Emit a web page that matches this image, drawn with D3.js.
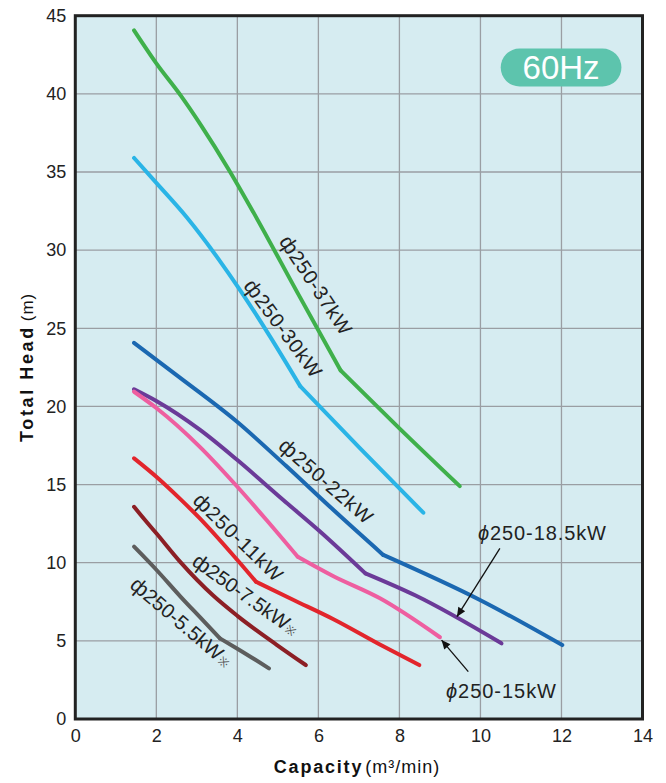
<!DOCTYPE html>
<html><head><meta charset="utf-8">
<script src="https://cdn.jsdelivr.net/npm/d3@7"></script>
<style>
html,body{margin:0;padding:0;background:#fff;}
svg{display:block;font-family:"Liberation Sans",Arial,Helvetica,sans-serif;}
</style></head>
<body>
<svg id="chart" width="666" height="783"></svg>
<script>
// ---- data ----
const xTicks = [0,2,4,6,8,10,12,14];
const yTicks = [0,5,10,15,20,25,30,35,40,45];

const seriesNames = ["37kW","30kW","22kW","18.5kW","15kW","11kW","7.5kW","5.5kW"];
const seriesColors = ["#3fb04b","#2ab4e6","#1b68b1","#6b3a98","#ee5ea0","#e2252c","#8c1f25","#5d5d5d"];

const q37 = [1.45,2.0,2.6,3.1,3.8,4.4,5.5,6.55,8.0,9.49];
const h37 = [44.06,41.95,39.9,38.0,35.1,32.4,27.2,22.3,18.6,14.9];

const q30 = [1.45,2.0,2.75,3.57,4.0,4.8,5.55,7.0,8.59];
const h30 = [35.9,34.3,32.1,29.3,27.7,24.5,21.3,17.4,13.2];

const q22 = [1.45,2.5,4.0,5.2,6.36,7.6,10.0,12.02];
const h22 = [24.07,22.0,19.0,16.2,13.4,10.5,7.6,4.73];

const q185 = [1.45,2.0,3.08,4.0,5.14,6.04,7.16,8.4,10.52];
const h185 = [21.1,20.35,18.5,16.57,14.0,12.0,9.32,7.9,4.84];

const q15 = [1.45,2.0,3.08,4.0,4.73,5.49,6.36,7.52,9.0];
const h15 = [20.94,19.9,17.4,14.86,12.7,10.38,9.15,7.72,5.23];

const q11 = [1.45,2.0,2.6,3.05,4.0,4.46,5.4,6.36,7.6,8.49];
const h11 = [16.68,15.5,14.05,12.9,10.17,8.78,7.6,6.4,4.65,3.45];

const q75 = [1.45,1.72,2.0,2.59,3.41,4.0,4.97,5.69];
const h75 = [13.58,12.73,11.88,10.05,7.88,6.6,4.75,3.45];

const q55 = [1.45,2.0,2.59,3.1,3.57,4.0,4.78];
const h55 = [11.03,9.55,7.85,6.45,5.16,4.5,3.24];

const seriesQ = [q37,q30,q22,q185,q15,q11,q75,q55];
const seriesH = [h37,h30,h22,h185,h15,h11,h75,h55];
// index of the sharp bend in each curve (-1 = none)
const seriesBend = [7,6,5,6,5,5,-1,4];

// rotated curve labels: text, center (data units), angle, length
const labelText = ["250-37kW","250-30kW","250-22kW","250-11kW","250-7.5kW","250-5.5kW"];
const labelMark = ["","","","","\u203B","\u203B"];
const labelQ = [5.94,5.13,6.19,4.02,4.21,2.62];
const labelH = [27.77,25.0,15.23,11.64,7.95,6.2];
const labelAngle = [56.4,53.4,41.2,44.3,35.5,40.5];
const labelLen = [114,116,117,116,125,126];

// arrow callouts
const calloutText = ["250-18.5kW","250-15kW"];
const calloutTextQ = [9.94,9.15];
const calloutTextH = [11.45,1.32];
const calloutLen = [128,110];
const arrowFromQ = [10.48,9.70], arrowFromH = [10.92,3.03];
const arrowToQ = [9.42,9.04], arrowToH = [6.55,5.05];

// ---- layout ----
const pL = 75.3, pR = 642.5, pT = 15.7, pB = 719;
const x = d3.scaleLinear().domain([0,14]).range([pL,pR]);
const y = d3.scaleLinear().domain([0,45]).range([pB,pT]);

const svg = d3.select("#chart");

svg.append("defs").append("marker")
  .attr("id","ah").attr("viewBox","0 0 10 10").attr("refX",10).attr("refY",5)
  .attr("markerWidth",11).attr("markerHeight",9).attr("markerUnits","userSpaceOnUse")
  .attr("orient","auto")
  .append("path").attr("d","M0,0.5 L10,5 L0,9.5 Z").attr("fill","#111");

// background
svg.append("rect").attr("x",pL).attr("y",pT).attr("width",pR-pL).attr("height",pB-pT)
  .attr("fill","#d6ecf1");

// grid
const g = svg.append("g");
g.selectAll("line.vx").data(xTicks.slice(1,-1)).join("line")
  .attr("x1",d=>x(d)).attr("x2",d=>x(d)).attr("y1",pT).attr("y2",pB)
  .attr("stroke","#9a9ea3").attr("stroke-width",1.3);
g.selectAll("line.hy").data(yTicks.slice(1,-1)).join("line")
  .attr("y1",d=>y(d)).attr("y2",d=>y(d)).attr("x1",pL).attr("x2",pR)
  .attr("stroke","#9a9ea3").attr("stroke-width",1.3);

// axes (labels only)
const xAxis = d3.axisBottom(x).tickValues(xTicks).tickSize(0).tickPadding(10);
const xa = svg.append("g").attr("transform",`translate(0,${pB})`).call(xAxis);
xa.select(".domain").remove();
xa.selectAll("text").attr("font-size",18).attr("fill","#222")
  .attr("font-family","'Liberation Sans',Arial,sans-serif");

const yAxis = d3.axisLeft(y).tickValues(yTicks).tickSize(0).tickPadding(9);
const ya = svg.append("g").attr("transform",`translate(${pL},0)`).call(yAxis);
ya.select(".domain").remove();
ya.selectAll("text").attr("font-size",18).attr("fill","#222")
  .attr("font-family","'Liberation Sans',Arial,sans-serif");

// curves: smooth pieces joined at the sharp bend
const line = d3.line().x(d=>x(d[0])).y(d=>y(d[1])).curve(d3.curveMonotoneX);
seriesQ.forEach((qs,i)=>{
  const pts = qs.map((q,j)=>[q, seriesH[i][j]]);
  const b = seriesBend[i];
  const pieces = b > 0 ? [pts.slice(0,b+1), pts.slice(b)] : [pts];
  pieces.forEach(p=>{
    svg.append("path").datum(p).attr("d",line)
      .attr("fill","none").attr("stroke",seriesColors[i]).attr("stroke-width",4)
      .attr("stroke-linejoin","round").attr("stroke-linecap","round");
  });
});

// border
svg.append("rect").attr("x",pL).attr("y",pT).attr("width",pR-pL).attr("height",pB-pT)
  .attr("fill","none").attr("stroke","#222").attr("stroke-width",3);

// rotated labels
labelText.forEach((t,i)=>{
  const tx = svg.append("text")
    .attr("transform",`translate(${x(labelQ[i])},${y(labelH[i])}) rotate(${labelAngle[i]})`)
    .attr("text-anchor","middle").attr("dy","0.36em")
    .attr("font-size",20).attr("fill","#222")
    .attr("textLength",labelLen[i]).attr("lengthAdjust","spacing");
  tx.append("tspan").attr("font-size",21).text("\u0444");
  tx.append("tspan").text(t);
  if (labelMark[i]) tx.append("tspan").attr("font-size",12).attr("fill","#555").attr("dx",1).text(labelMark[i]);
});

// callouts
calloutText.forEach((t,i)=>{
  const tx = svg.append("text").attr("x",x(calloutTextQ[i])).attr("y",y(calloutTextH[i]))
    .attr("font-size",20).attr("fill","#222")
    .attr("textLength",calloutLen[i]).attr("lengthAdjust","spacing");
  tx.append("tspan").attr("font-style","italic").text("\u03D5");
  tx.append("tspan").text(t);
  svg.append("line")
    .attr("x1",x(arrowFromQ[i])).attr("y1",y(arrowFromH[i]))
    .attr("x2",x(arrowToQ[i])).attr("y2",y(arrowToH[i]))
    .attr("stroke","#111").attr("stroke-width",1.3).attr("marker-end","url(#ah)");
});

// 60Hz badge
const bx0 = x(10.5), bx1 = x(13.48), by0 = y(42.9), by1 = y(40.47);
svg.append("rect").attr("x",bx0).attr("y",by0).attr("width",bx1-bx0).attr("height",by1-by0)
  .attr("rx",(by1-by0)/2).attr("fill","#5dc4ad");
svg.append("text").attr("x",(bx0+bx1)/2).attr("y",(by0+by1)/2).attr("dy","0.36em")
  .attr("text-anchor","middle").attr("font-size",33).attr("fill","#fff").text("60Hz");

// axis titles
const xt = svg.append("text").attr("x",357).attr("y",773).attr("text-anchor","middle").attr("fill","#111");
xt.append("tspan").attr("font-weight","bold").attr("font-size",18).attr("letter-spacing",1.8).text("Capacity");
xt.append("tspan").attr("font-size",18).attr("dx",2).attr("letter-spacing",1).text("(m\u00B3/min)");

const yt = svg.append("text").attr("transform",`translate(33,${(pT+pB)/2}) rotate(-90)`)
  .attr("text-anchor","middle").attr("fill","#111");
yt.append("tspan").attr("font-weight","bold").attr("font-size",18).attr("letter-spacing",2.6).text("Total Head");
yt.append("tspan").attr("font-size",17).attr("dx",4).attr("letter-spacing",1).text("(m)");
</script>
</body></html>
